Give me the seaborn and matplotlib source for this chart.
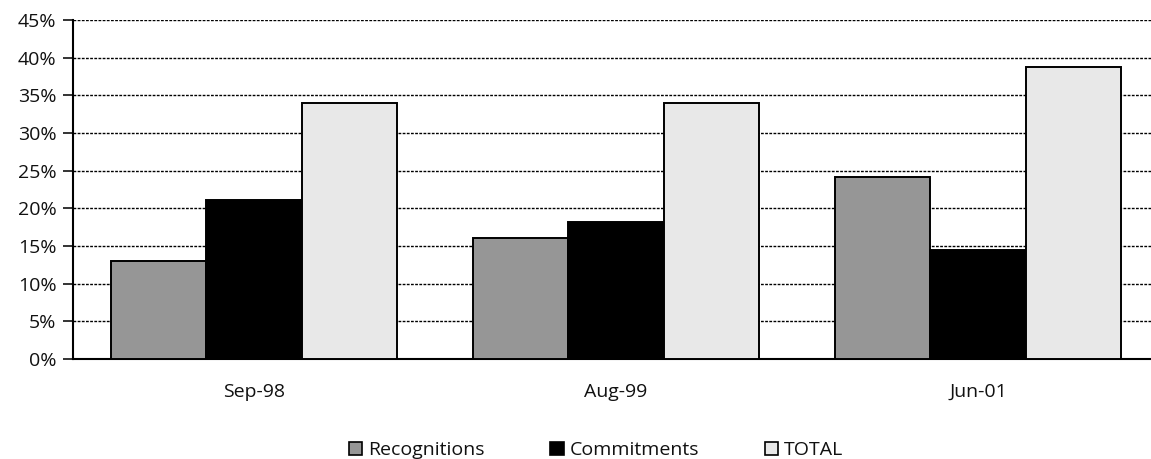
import matplotlib
matplotlib.use("Agg")
import matplotlib.pyplot as plt
from matplotlib.patches import Patch
from matplotlib.ticker import FixedLocator, PercentFormatter
import seaborn as sns
import pandas as pd

periods = ["Sep-98", "Aug-99", "Jun-01"]
series = ["Recognitions", "Commitments", "TOTAL"]
recognitions = [13.0, 16.0, 24.2]
commitments = [21.1, 18.2, 14.5]
total = [34.0, 34.0, 38.8]
colors = ["#969696", "#000000", "#E8E8E8"]

rows = []
for name, vals in zip(series, [recognitions, commitments, total]):
    for p, v in zip(periods, vals):
        rows.append({"period": p, "series": name, "value": v})
df = pd.DataFrame(rows)

sns.set_style("white")
plt.rcParams["font.family"] = ["Open Sans", "DejaVu Sans"]

fig = plt.figure(figsize=(11.51, 4.59), dpi=100)
ax = fig.add_axes([73 / 1151, 100 / 459, (1159 - 73) / 1151, 339 / 459])

sns.barplot(data=df, x="period", y="value", hue="series", order=periods,
            hue_order=series, palette=colors, width=0.79, ax=ax,
            edgecolor="black", linewidth=1.4, legend=False, zorder=3)

ax.set_xlim(-0.5, 2.5)
ax.set_ylim(0, 45)
ax.yaxis.set_major_locator(FixedLocator(range(0, 46, 5)))
ax.yaxis.set_major_formatter(PercentFormatter(decimals=0))
ax.yaxis.grid(True, color="black", linestyle=(0, (2, 1)), linewidth=1.0, zorder=0)
ax.set_axisbelow(True)

ax.set_xlabel("")
ax.set_ylabel("")
ax.xaxis.set_minor_locator(FixedLocator([-0.5, 0.5, 1.5, 2.5]))
ax.tick_params(axis="x", which="major", length=0, pad=17, labelsize=14, colors="#111111")
ax.tick_params(axis="x", which="minor", length=12, width=1.2, direction="inout", color="black")
ax.tick_params(axis="y", which="major", length=7, width=1.2, direction="out", pad=5,
               labelsize=14, colors="#111111", left=True)

for side in ["top", "right"]:
    ax.spines[side].set_visible(False)
for side in ["left", "bottom"]:
    ax.spines[side].set_color("black")
    ax.spines[side].set_linewidth(1.5)

handles = [Patch(facecolor=c, edgecolor="black", linewidth=1.2, label=s)
           for c, s in zip(colors, series)]
fig.legend(handles=handles, loc="center", bbox_to_anchor=(596 / 1151, 9 / 459), ncol=3,
           frameon=False, fontsize=14, handlelength=0.68, handleheight=0.68,
           handletextpad=0.3, columnspacing=3.4, labelcolor="#111111")

fig.savefig("out.png", dpi=100)
